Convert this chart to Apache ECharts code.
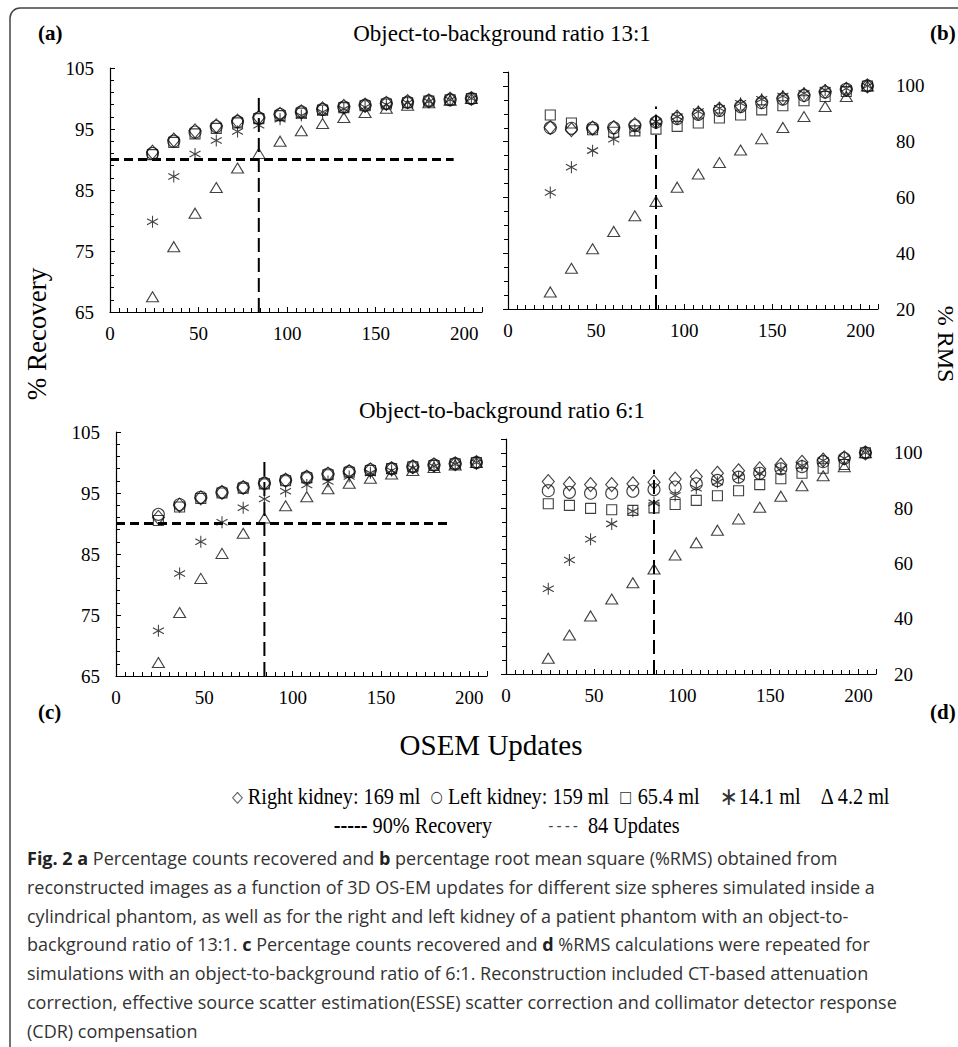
<!DOCTYPE html>
<html>
<head>
<meta charset="utf-8">
<script src="https://cdn.jsdelivr.net/npm/echarts@6/dist/echarts.min.js"></script>
<style>
  html, body { margin: 0; padding: 0; background: #fff; }
  #chart { width: 958px; height: 1047px; }
</style>
</head>
<body>
<div id="chart"></div>
<script>
// OSEM updates (x values shared by all panels)
var updates = [24, 36, 48, 60, 72, 84, 96, 108, 120, 132, 144, 156, 168, 180, 192, 204];

// (a) % recovery, ratio 13:1
var rightA = [91.2, 93.2, 94.7, 95.5, 96.3, 96.9, 97.4, 97.8, 98.3, 98.7, 98.9, 99.2, 99.5, 99.6, 99.9, 100.0];
var leftA  = [91.0, 93.0, 94.5, 95.4, 96.2, 96.8, 97.4, 97.8, 98.2, 98.6, 98.9, 99.2, 99.4, 99.6, 99.8, 100.0];
var sqA    = [90.8, 92.8, 94.2, 95.1, 96.0, 96.7, 97.2, 97.6, 98.1, 98.5, 98.8, 99.1, 99.3, 99.6, 99.8, 100.0];
var astA   = [79.8, 87.2, 90.9, 93.1, 94.6, 95.6, 96.6, 97.2, 97.8, 98.3, 98.6, 99.0, 99.3, 99.5, 99.8, 100.0];
var triA   = [67.5, 75.7, 81.2, 85.4, 88.6, 91.0, 93.0, 94.7, 95.9, 96.9, 97.7, 98.4, 98.9, 99.3, 99.7, 100.0];

// (b) % RMS, ratio 13:1
var rightB = [85.1, 84.3, 84.9, 85.1, 86.1, 87.2, 88.8, 90.2, 91.7, 92.9, 94.4, 95.6, 96.8, 98.0, 98.8, 100];
var leftB  = [85.0, 84.8, 84.9, 85.0, 85.8, 87.0, 88.3, 89.8, 91.2, 92.6, 94.0, 95.3, 96.6, 97.8, 98.8, 100];
var sqB    = [89.6, 86.7, 84.3, 83.4, 83.9, 84.5, 85.5, 86.7, 88.5, 89.6, 91.4, 92.9, 94.7, 96.2, 98.0, 100];
var astB   = [61.8, 70.8, 76.8, 80.9, 84.3, 87.2, 89.0, 90.8, 92.0, 93.8, 95.2, 96.4, 97.4, 98.5, 99.1, 100];
var triB   = [26.1, 34.6, 41.6, 47.8, 53.4, 58.6, 63.7, 68.4, 72.5, 77.0, 81.1, 85.1, 89.0, 92.6, 96.2, 100];

// (c) % recovery, ratio 6:1
var rightC = [91.0, 93.0, 94.2, 95.1, 95.9, 96.6, 97.1, 97.6, 98.1, 98.5, 98.8, 99.0, 99.3, 99.6, 99.8, 100];
var leftC  = [91.5, 93.1, 94.3, 95.1, 95.9, 96.6, 97.1, 97.6, 98.1, 98.5, 98.8, 99.0, 99.3, 99.6, 99.8, 100];
var sqC    = [90.5, 92.7, 94.1, 95.0, 95.8, 96.5, 97.0, 97.5, 98.0, 98.4, 98.7, 99.0, 99.3, 99.5, 99.8, 100];
var astC   = [72.4, 81.8, 87.0, 90.2, 92.6, 94.0, 95.3, 96.3, 96.9, 97.7, 98.3, 98.7, 99.1, 99.4, 99.7, 100];
var triC   = [67.2, 75.4, 81.0, 85.1, 88.4, 90.9, 92.9, 94.4, 95.7, 96.6, 97.4, 98.1, 98.7, 99.2, 99.6, 100];

// (d) % RMS, ratio 6:1
var rightD = [89.6, 88.8, 88.5, 88.5, 88.8, 89.4, 90.5, 91.4, 92.6, 93.5, 94.2, 95.6, 96.6, 97.4, 98.2, 100];
var leftD  = [86.3, 85.7, 85.4, 85.4, 86.1, 86.7, 87.6, 88.8, 90.0, 91.2, 92.6, 94.2, 95.0, 96.8, 98.0, 100];
var sqD    = [81.6, 81.0, 79.9, 79.4, 79.2, 80.1, 81.3, 82.8, 84.5, 86.3, 88.5, 90.6, 92.6, 94.4, 95.8, 100];
var astD   = [50.8, 61.2, 68.7, 74.3, 78.9, 81.9, 84.6, 87.2, 89.4, 91.2, 92.6, 94.2, 95.4, 97.2, 98.0, 100];
var triD   = [25.7, 34.1, 41.0, 47.1, 53.0, 58.0, 63.0, 67.5, 72.0, 76.1, 80.3, 84.3, 88.1, 91.7, 95.0, 100];

// reference lines: 90% recovery (x range) and 84 updates (top of the dashed line per panel)
var rec90End = [194, null, 190, null];
var upd84 = 84;
var upd84Top = [100.2, 92.6, 100.1, 93.9];

var seriesNames = ['Right kidney: 169 ml', 'Left kidney: 159 ml', '65.4 ml', '14.1 ml', '4.2 ml'];
var tickX = ['0', '50', '100', '150', '200'];

var serif = '"Liberation Serif", "Times New Roman", serif';
var sans = '"Open Sans", "Noto Sans", sans-serif';
var astPath = 'path://M0,-10L0,10M-8.66,-5L8.66,5M-8.66,5L8.66,-5';
var symbols = [
    {symbol: 'diamond', size: [12, 14]},
    {symbol: 'circle', size: 12},
    {symbol: 'rect', size: 10},
    {symbol: astPath, size: [11, 12]},
    {symbol: 'triangle', size: [12, 10]}
];

var panels = [
    [rightA, leftA, sqA, astA, triA],
    [rightB, leftB, sqB, astB, triB],
    [rightC, leftC, sqC, astC, triC],
    [rightD, leftD, sqD, astD, triD]
];

function pairs(vals) {
    var out = [];
    for (var i = 0; i < updates.length; i++) {
        out.push([updates[i], vals[i]]);
    }
    return out;
}

var series = [];
for (var p = 0; p < 4; p++) {
    // triangles first, diamonds on top
    for (var s = 4; s >= 0; s--) {
        series.push({
            name: seriesNames[s],
            type: 'scatter',
            xAxisIndex: p,
            yAxisIndex: p,
            data: pairs(panels[p][s]),
            symbol: symbols[s].symbol,
            symbolSize: symbols[s].size,
            itemStyle: {color: 'rgba(255,255,255,0)', borderColor: '#111', borderWidth: 1.1},
            z: 3
        });
    }
    if (rec90End[p] !== null) {
        series.push({
            name: '90% Recovery',
            type: 'line',
            xAxisIndex: p,
            yAxisIndex: p,
            data: [[0, 90], [rec90End[p], 90]],
            symbol: 'none',
            lineStyle: {color: '#000', width: 3, type: [9, 5]},
            z: 2
        });
    }
    series.push({
        name: '84 Updates',
        type: 'line',
        xAxisIndex: p,
        yAxisIndex: p,
        data: [[upd84, p % 2 === 0 ? 65 : 20], [upd84, upd84Top[p]]],
        symbol: 'none',
        lineStyle: {color: '#000', width: 2, type: [14, 6]},
        z: 2
    });
}

var grids = [
    {left: 110, top: 68, width: 372, height: 244},
    {left: 508, top: 72, width: 370, height: 237},
    {left: 116, top: 432, width: 371, height: 244},
    {left: 506, top: 439, width: 370, height: 235}
];

var xAxes = [], yAxes = [];
for (var g = 0; g < 4; g++) {
    xAxes.push({
        type: 'value', gridIndex: g, min: 0, max: 210, interval: 50,
        axisLine: {lineStyle: {color: '#000', width: 1.2}},
        axisTick: {inside: true, length: 5, lineStyle: {color: '#000'}},
        minorTick: {show: true, splitNumber: 10, length: 4, lineStyle: {color: '#000'}},
        axisLabel: {color: '#000', fontFamily: serif, fontSize: 19, margin: 12, showMaxLabel: false,
            formatter: function (v) { return tickX.indexOf(String(v)) >= 0 ? String(v) : ''; }},
        splitLine: {show: false}
    });
    var rms = (g % 2 === 1);
    yAxes.push({
        type: 'value', gridIndex: g,
        position: rms ? 'right' : 'left',
        min: rms ? 20 : 65, max: 105, interval: rms ? 20 : 10,
        axisLine: {show: true, lineStyle: {color: '#000', width: 1.2}},
        axisTick: {show: true, inside: true, length: 5, lineStyle: {color: '#000'}},
        minorTick: {show: true, splitNumber: rms ? 4 : 5, length: 4, lineStyle: {color: '#000'}},
        axisLabel: {color: '#000', fontFamily: serif, fontSize: 19, margin: rms ? 18 : 16, showMaxLabel: !rms},
        splitLine: {show: false}
    });
}

var captionLines = [
    '{b|Fig. 2 a} Percentage counts recovered and {b|b} percentage root mean square (%RMS) obtained from',
    'reconstructed images as a function of 3D OS-EM updates for different size spheres simulated inside a',
    'cylindrical phantom, as well as for the right and left kidney of a patient phantom with an object-to-',
    'background ratio of 13:1. {b|c} Percentage counts recovered and {b|d} %RMS calculations were repeated for',
    'simulations with an object-to-background ratio of 6:1. Reconstruction included CT-based attenuation',
    'correction, effective source scatter estimation(ESSE) scatter correction and collimator detector response',
    '(CDR) compensation'
];

var legendRow1 = '{s|\u25C7} Right kidney: 169 ml  {s|\u25CB} Left kidney: 159 ml  {s|\u25A1} 65.4 ml    {a|\u2217}14.1 ml    \u0394 4.2 ml';
var legendRec = '{d|-----} 90% Recovery';
var legendUpd = '{g|- - - -}  84 Updates';

function txt(x, y, text, size, opts) {
    opts = opts || {};
    return {
        type: 'text', x: x, y: y, rotation: opts.rot || 0,
        scaleX: opts.sx || 1,
        style: {
            text: text, fill: opts.color || '#000',
            fontSize: size, fontFamily: opts.family || serif,
            fontWeight: opts.bold ? 'bold' : 'normal',
            align: opts.align || 'center', verticalAlign: 'middle',
            rich: opts.rich
        }
    };
}

var legendRich = {
    s: {fontSize: 16, fontFamily: '"DejaVu Sans", sans-serif', fill: '#333'},
    a: {fontSize: 25, fontFamily: '"DejaVu Sans", sans-serif', fill: '#333'},
    d: {fontSize: 23, fontWeight: 'bold', fontFamily: serif, fill: '#000'},
    g: {fontSize: 16, fontFamily: serif, fill: '#444'}
};

var graphics = [
    {type: 'rect', shape: {x: 10, y: 8, width: 990, height: 1080, r: 10},
        style: {fill: 'none', stroke: '#444', lineWidth: 1.5}},
    txt(38, 33, '(a)', 21, {bold: true, align: 'left'}),
    txt(502, 33, 'Object-to-background ratio 13:1', 23),
    txt(930, 33, '(b)', 21, {bold: true, align: 'left'}),
    txt(37, 334, '% Recovery', 27, {rot: Math.PI / 2}),
    txt(946, 344, '% RMS', 24, {rot: -Math.PI / 2}),
    txt(502, 410, 'Object-to-background ratio 6:1', 23),
    txt(38, 712, '(c)', 21, {bold: true, align: 'left'}),
    txt(930, 712, '(d)', 21, {bold: true, align: 'left'}),
    txt(491, 745, 'OSEM Updates', 29),
    txt(561, 797, legendRow1, 23, {sx: 0.88, rich: legendRich}),
    txt(413, 826, legendRec, 23, {sx: 0.88, rich: legendRich}),
    txt(614, 826, legendUpd, 23, {sx: 0.88, rich: legendRich})
];
for (var c = 0; c < captionLines.length; c++) {
    graphics.push({
        type: 'text', x: 27, y: 858 + c * 28.8,
        style: {
            text: captionLines[c], fill: '#333',
            fontSize: 18, fontFamily: sans,
            align: 'left', verticalAlign: 'middle',
            rich: {b: {fontWeight: 'bold', fill: '#222', fontSize: 18, fontFamily: sans}}
        }
    });
}

var option = {
    animation: false,
    backgroundColor: '#fff',
    grid: grids,
    xAxis: xAxes,
    yAxis: yAxes,
    series: series,
    graphic: graphics
};

var myChart = echarts.init(document.getElementById('chart'), null, {renderer: 'svg'});
myChart.setOption(option);
</script>
</body>
</html>
